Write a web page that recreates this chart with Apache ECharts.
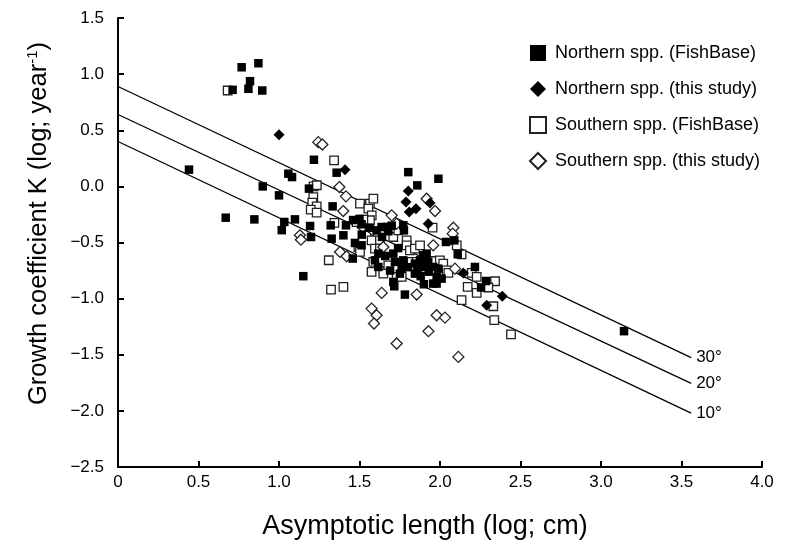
<!DOCTYPE html>
<html>
<head>
<meta charset="utf-8">
<script src="https://cdn.jsdelivr.net/npm/echarts@6/dist/echarts.min.js"></script>
<style>html,body{margin:0;padding:0;background:#fff;}#c{width:785px;height:550px;}</style>
</head>
<body>
<div id="c"></div>
<script>
// Northern spp. (FishBase) - filled squares
const northFishBase = [
  [0.441,0.149],[0.669,-0.279],[0.712,0.86],[0.768,1.061],[0.81,0.869],[0.82,0.937],[0.847,-0.294],
  [0.872,1.097],[0.896,0.854],[0.899,0.0],[1.0,-0.08],[1.017,-0.39],[1.033,-0.317],[1.058,0.113],
  [1.081,0.083],[1.099,-0.294],[1.151,-0.80],[1.186,-0.02],[1.193,-0.353],[1.199,-0.451],[1.217,0.237],
  [1.321,-0.347],[1.327,-0.466],[1.333,-0.178],[1.358,0.122],[1.416,-0.347],[1.40,-0.436],[1.458,-0.643],
  [1.46,-0.30],[1.50,-0.29],[1.472,-0.504],[1.514,-0.43],[1.513,-0.338],[1.561,-0.368],[1.606,-0.392],
  [1.637,-0.362],[1.669,-0.362],[1.679,-0.40],[1.70,-0.35],[1.772,-0.347],[1.776,-0.392],[1.513,-0.525],
  [1.617,-0.599],[1.596,-0.659],[1.617,-0.718],[1.71,-0.599],[1.72,-0.673],[1.751,-0.777],[1.762,-0.73],
  [1.772,-0.659],[1.844,-0.688],[1.844,-0.777],[1.876,-0.659],[1.896,-0.614],[1.917,-0.599],[1.927,-0.673],
  [1.907,-0.718],[1.958,-0.718],[1.989,-0.733],[1.979,-0.807],[1.979,-0.866],[1.958,-0.866],[1.90,-0.872],
  [2.01,-0.822],[1.71,-0.851],[1.716,-0.89],[1.782,-0.964],[1.803,0.127],[1.859,0.009],[1.99,0.068],
  [2.037,-0.495],[2.089,-0.481],[2.11,-0.605],[2.217,-0.718],[2.255,-0.901],[2.286,-0.843],[3.143,-1.29],
  [1.66,-0.62],[1.69,-0.75],[1.80,-0.72],[1.86,-0.73],[1.93,-0.76],[1.88,-0.80],[1.74,-0.55],[1.64,-0.45]
];
// Northern spp. (this study) - filled diamonds
const northStudy = [
  [1.0,0.46],[1.41,0.148],[1.803,-0.042],[1.789,-0.14],[1.809,-0.229],[1.851,-0.199],[1.938,-0.148],
  [1.927,-0.332],[2.145,-0.771],[2.387,-0.979],[2.29,-1.059]
];
// Southern spp. (FishBase) - hollow squares
const southFishBase = [
  [0.681,0.854],[1.215,0.0],[1.235,0.01],[1.213,-0.095],[1.207,-0.145],[1.234,-0.178],[1.197,-0.207],
  [1.234,-0.234],[1.342,0.231],[1.344,-0.326],[1.309,-0.658],[1.323,-0.919],[1.40,-0.896],[1.493,-0.54],
  [1.503,-0.584],[1.503,-0.154],[1.565,-0.154],[1.586,-0.109],[1.555,-0.198],[1.576,-0.258],[1.565,-0.302],
  [1.524,-0.297],[1.482,-0.318],[1.596,-0.421],[1.575,-0.481],[1.627,-0.481],[1.71,-0.451],[1.741,-0.392],
  [1.793,-0.481],[1.793,-0.525],[1.596,-0.555],[1.627,-0.555],[1.586,-0.673],[1.679,-0.703],[1.575,-0.762],
  [1.648,-0.777],[1.731,-0.807],[1.762,-0.807],[1.813,-0.57],[1.844,-0.555],[1.876,-0.525],[1.824,-0.673],
  [1.855,-0.673],[1.948,-0.665],[1.999,-0.659],[2.02,-0.688],[2.041,-0.748],[2.052,-0.771],[1.954,-0.368],
  [2.104,-0.525],[2.134,-0.605],[2.197,-0.771],[2.228,-0.807],[2.172,-0.896],[2.228,-0.949],[2.134,-1.014],
  [2.342,-0.845],[2.30,-0.901],[2.331,-1.068],[2.337,-1.192],[2.441,-1.319]
];
// Southern spp. (this study) - hollow diamonds
const southStudy = [
  [1.13,-0.436],[1.136,-0.475],[1.244,0.394],[1.269,0.373],[1.375,-0.006],[1.416,-0.089],[1.399,-0.22],
  [1.379,-0.584],[1.42,-0.623],[1.519,-0.362],[1.582,-0.392],[1.648,-0.54],[1.70,-0.258],[1.731,-0.332],
  [1.917,-0.11],[1.969,-0.22],[1.958,-0.525],[2.083,-0.368],[2.079,-0.421],[2.093,-0.733],[1.638,-0.949],
  [1.855,-0.964],[1.575,-1.089],[1.606,-1.148],[1.59,-1.222],[1.731,-1.40],[1.928,-1.29],[1.979,-1.148],
  [2.031,-1.169],[2.114,-1.519]
];
// Reference lines (temperature isolines)
const line30 = [[0,0.89],[3.56,-1.525]];
const line20 = [[0,0.64],[3.56,-1.755]];
const line10 = [[0,0.40],[3.56,-2.02]];
const lineLabels = ['30°','20°','10°'];
const seriesNames = ['Northern spp. (FishBase)','Northern spp. (this study)','Southern spp. (FishBase)','Southern spp. (this study)'];

const FONT = 'Arial, "Liberation Sans", sans-serif';
const chart = echarts.init(document.getElementById('c'), null, {renderer:'canvas'});

function refLine(data, label){
  return {
    type:'line', data:data, showSymbol:false, symbol:'none', silent:true,
    lineStyle:{color:'#000', width:1.3}, z:1,
    endLabel:{show:true, formatter:label, fontFamily:FONT, fontSize:17, color:'#000', distance:5},
    animation:false
  };
}
const filledStyle = {color:'#000', borderColor:'#000', borderWidth:0, opacity:1};
const hollowStyle = {color:'#fff', borderColor:'#222', borderWidth:1.3, opacity:1};
function num(v){ return (v < 0 ? '\u2212' : '') + Math.abs(v).toFixed(1); }

chart.setOption({
  animation:false,
  backgroundColor:'#fff',
  grid:{left:118, right:23, top:18, bottom:83, containLabel:false},
  legend:{
    orient:'vertical', left:524, top:39, itemGap:18, itemWidth:16, itemHeight:16,
    data:seriesNames,
    textStyle:{fontFamily:FONT, fontSize:18, lineHeight:16, color:'#000', padding:[0,0,0,4]},
    selectedMode:false
  },
  xAxis:{
    type:'value', min:0, max:4, interval:0.5,
    name:'Asymptotic length (log; cm)', nameLocation:'middle', nameGap:46,
    nameTextStyle:{fontFamily:FONT, fontSize:27, color:'#000', padding:[0,30,0,0]},
    axisLine:{show:true, onZero:false, lineStyle:{color:'#000', width:2}},
    axisTick:{show:true, inside:true, length:6, lineStyle:{color:'#000', width:2}},
    axisLabel:{fontFamily:FONT, fontSize:17, color:'#000', margin:7,
      formatter:function(v){return v===0?'0':num(v);}},
    splitLine:{show:false}
  },
  yAxis:{
    type:'value', min:-2.5, max:1.5, interval:0.5,
    name:'{a|Growth coefficient K (log; year}{s|-1}{a|)}', nameLocation:'middle', nameGap:66,
    nameTextStyle:{padding:[0,0,0,38], rich:{
      a:{fontFamily:FONT, fontSize:25.5, color:'#000'},
      s:{fontFamily:FONT, fontSize:15, color:'#000', verticalAlign:'top', padding:[0,0,12,0]}
    }},
    axisLine:{show:true, onZero:false, lineStyle:{color:'#000', width:2}},
    axisTick:{show:true, inside:true, length:6, lineStyle:{color:'#000', width:2}},
    axisLabel:{fontFamily:FONT, fontSize:17, color:'#000', margin:14,
      formatter:function(v){return num(v);}},
    splitLine:{show:false}
  },
  series:[
    refLine(line30, lineLabels[0]),
    refLine(line20, lineLabels[1]),
    refLine(line10, lineLabels[2]),
    {name:seriesNames[2], type:'scatter', symbol:'rect', symbolSize:8.5, data:southFishBase, itemStyle:hollowStyle, z:3},
    {name:seriesNames[3], type:'scatter', symbol:'diamond', symbolSize:11, data:southStudy, itemStyle:hollowStyle, z:3},
    {name:seriesNames[0], type:'scatter', symbol:'rect', symbolSize:8.5, data:northFishBase, itemStyle:filledStyle, z:4},
    {name:seriesNames[1], type:'scatter', symbol:'diamond', symbolSize:11, data:northStudy, itemStyle:filledStyle, z:4}
  ]
});
</script>
</body>
</html>
